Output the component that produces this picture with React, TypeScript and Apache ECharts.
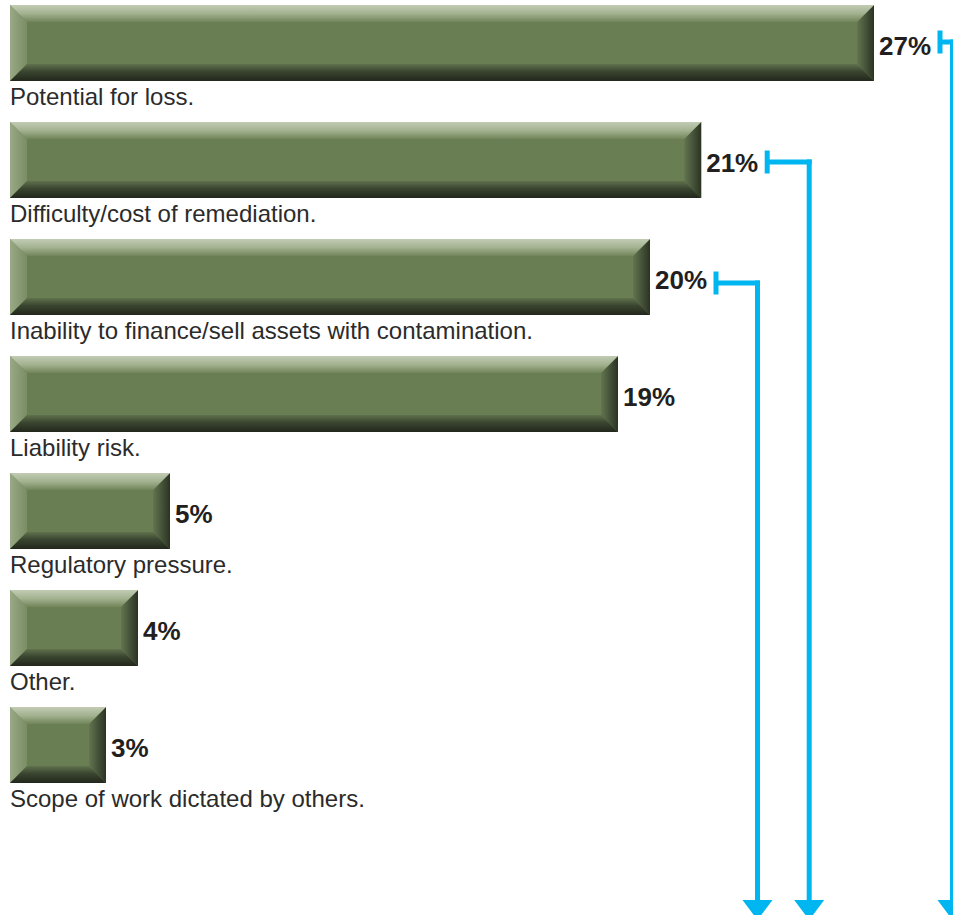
import React, { useEffect, useRef } from "react";
import * as echarts from "echarts";

const categories = [
  "Potential for loss.",
  "Difficulty/cost of remediation.",
  "Inability to finance/sell assets with contamination.",
  "Liability risk.",
  "Regulatory pressure.",
  "Other.",
  "Scope of work dictated by others.",
];
const values = [27, 21.6, 20, 19, 5, 4, 3];
const valueLabels = ["27%", "21%", "20%", "19%", "5%", "4%", "3%"];
const arrowedItems = [0, 1, 2];

// layout constants (not data)
const FONT = '"Liberation Sans", Arial, Helvetica, sans-serif';
const W = 953;
const H = 915;
const CYAN = "#00b6f0";
const FACE = "#6a7e53";
const ARROW_DY = [-1, 2, 6];
const ARROW_LANE = [12.5, 42, 41.5];

export default function App() {
  const ref = useRef<HTMLDivElement>(null);

  useEffect(() => {
    if (!ref.current) return;
    const chart = echarts.init(ref.current, undefined, { renderer: "svg" });
    const LG = echarts.graphic.LinearGradient;

    const renderItem = (params: any, api: any) => {
      const v = api.value(0);
      const idx = api.value(1);
      const p0 = api.coord([0, idx]);
      const p1 = api.coord([v, idx]);
      const band = Math.abs(api.size([0, 1])[1]);
      const h = band * 0.65;
      const x0 = p0[0];
      const x1 = p1[0];
      const cy = p0[1];
      const y0 = cy - h / 2;
      const y1 = cy + h / 2;
      const b = Math.min(17, (x1 - x0) / 2);
      const children: any[] = [
        { type: "rect", shape: { x: x0, y: y0, width: x1 - x0, height: h }, style: { fill: FACE } },
        {
          type: "polygon",
          shape: { points: [[x0, y0], [x0 + b, y0 + b], [x0 + b, y1 - b], [x0, y1]] },
          style: { fill: new LG(0, 0, 1, 0, [{ offset: 0, color: "#98a985" }, { offset: 1, color: "#7a8d64" }]) },
        },
        {
          type: "polygon",
          shape: { points: [[x1, y0], [x1, y1], [x1 - b, y1 - b], [x1 - b, y0 + b]] },
          style: { fill: new LG(0, 0, 1, 0, [{ offset: 0, color: "#637550" }, { offset: 1, color: "#2b3323" }]) },
        },
        {
          type: "polygon",
          shape: { points: [[x0, y0], [x1, y0], [x1 - b, y0 + b], [x0 + b, y0 + b]] },
          style: {
            fill: new LG(0, 0, 0, 1, [
              { offset: 0, color: "#c2ccb4" },
              { offset: 0.5, color: "#a3b290" },
              { offset: 1, color: "#71855a" },
            ]),
          },
        },
        {
          type: "polygon",
          shape: { points: [[x0, y1], [x0 + b, y1 - b], [x1 - b, y1 - b], [x1, y1]] },
          style: {
            fill: new LG(0, 0, 0, 1, [
              { offset: 0, color: "#5f714c" },
              { offset: 0.45, color: "#3a4530" },
              { offset: 1, color: "#22271b" },
            ]),
          },
        },
        {
          type: "text",
          x: x1 + 5,
          y: cy + 3,
          style: {
            text: valueLabels[idx],
            fontSize: 26,
            fontWeight: "bold",
            fontFamily: FONT,
            fill: "#231f20",
            align: "left",
            verticalAlign: "middle",
          },
        },
        {
          type: "text",
          x: x0,
          y: cy + 53.5,
          style: {
            text: categories[idx],
            fontSize: 24,
            fontFamily: FONT,
            fill: "#2b2b2b",
            align: "left",
            verticalAlign: "middle",
          },
        },
      ];
      const ai = arrowedItems.indexOf(idx);
      if (ai >= 0) {
        const tx = x1 + 66;
        const ty = cy + ARROW_DY[ai];
        const lx = tx + ARROW_LANE[ai];
        const bottom = api.getHeight();
        const headTop = bottom - 15;
        children.push(
          { type: "rect", shape: { x: tx - 2.5, y: ty - 11.5, width: 5, height: 23 }, style: { fill: CYAN } },
          { type: "rect", shape: { x: tx, y: ty - 2.5, width: lx + 2.5 - tx, height: 5 }, style: { fill: CYAN } },
          { type: "rect", shape: { x: lx - 2.5, y: ty - 2.5, width: 5, height: headTop - ty + 3 }, style: { fill: CYAN } },
          {
            type: "polygon",
            shape: { points: [[lx - 15, headTop], [lx + 15, headTop], [lx, bottom + 5]] },
            style: { fill: CYAN },
          }
        );
      }
      return { type: "group", children };
    };

    chart.setOption({
      animation: false,
      backgroundColor: "#ffffff",
      grid: { left: 10, top: 43, width: 864, height: 702, containLabel: false },
      xAxis: { type: "value", min: 0, max: 27, show: false },
      yAxis: { type: "value", min: 0, max: 6, inverse: true, show: false },
      series: [
        {
          type: "custom",
          renderItem,
          encode: { x: 0, y: 1 },
          data: values.map((v, i) => [v, i]),
          clip: false,
        },
      ],
    });
    return () => chart.dispose();
  }, []);

  return (
    <div
      ref={ref}
      style={{ position: "absolute", left: 0, top: 0, width: W, height: H, background: "#fff" }}
    />
  );
}
